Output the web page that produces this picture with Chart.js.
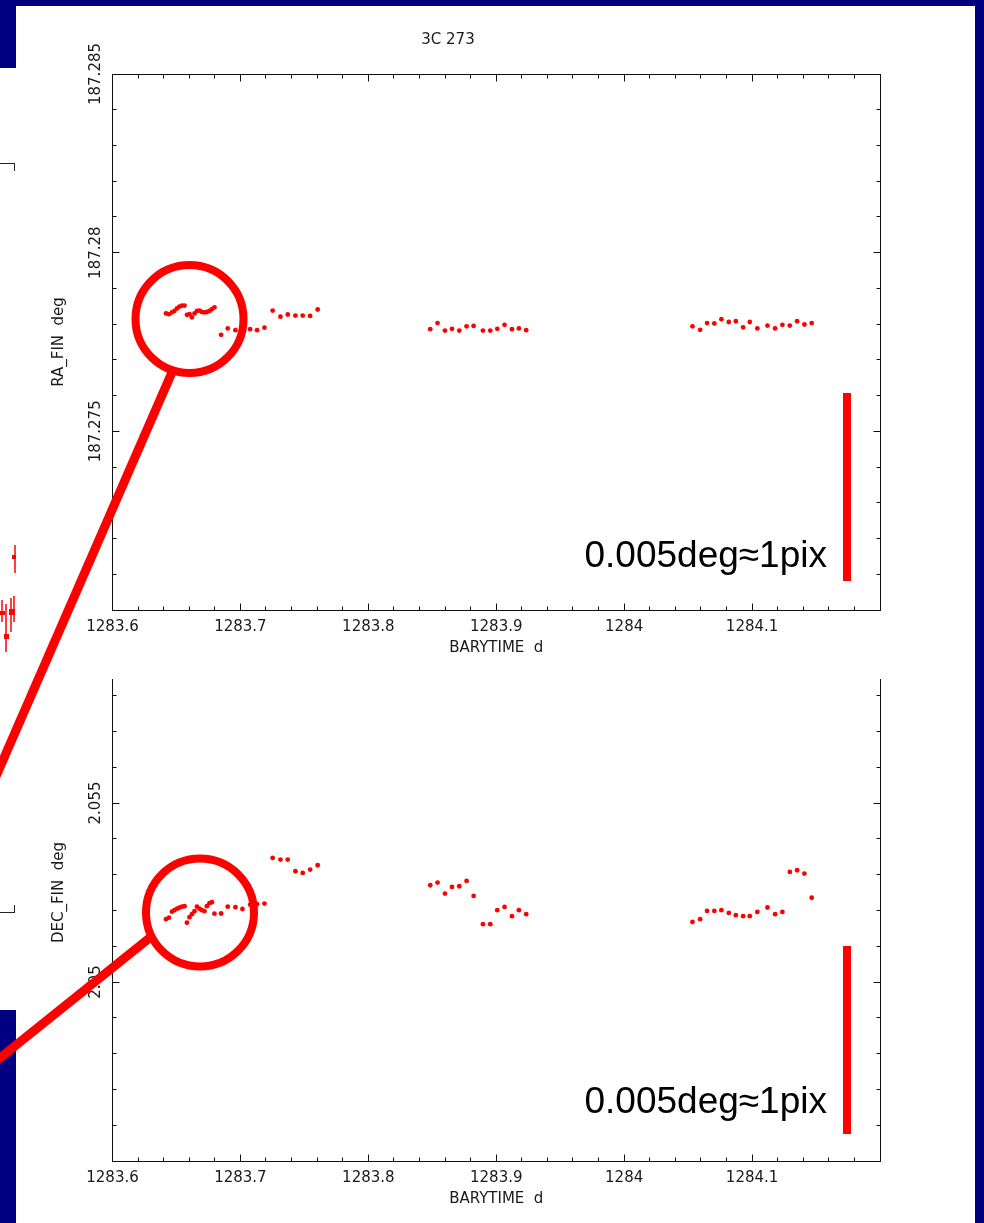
<!DOCTYPE html>
<html>
<head>
<meta charset="utf-8">
<title>3C 273 RA_FIN / DEC_FIN</title>
<script src="https://cdn.jsdelivr.net/npm/chart.js@4.4.1/dist/chart.umd.min.js"></script>
<style>
    html, body {
        margin: 0;
        padding: 0;
    }
    body {
        width: 984px;
        height: 1223px;
        background: #000080;
        position: relative;
        overflow: hidden;
    }
    .panel {
        position: absolute;
        left: 16px;
        top: 6px;
        width: 959px;
        height: 1217px;
        background: #fff;
    }
    .left-strip {
        position: absolute;
        left: 0;
        top: 68px;
        width: 16px;
        height: 942px;
        background: #fff;
    }
    .corner-top {
        position: absolute;
        left: 0;
        top: 163px;
        width: 14px;
        height: 7px;
        border-top: 1px solid #222;
        border-right: 1px solid #222;
    }
    .corner-bottom {
        position: absolute;
        left: 0;
        top: 905px;
        width: 14px;
        height: 7px;
        border-bottom: 1px solid #222;
        border-right: 1px solid #222;
    }
    #ra-wrap {
        position: absolute;
        left: 16px;
        top: 6px;
        width: 959px;
        height: 673px;
        z-index: 1;
    }
    #dec-wrap {
        position: absolute;
        left: 16px;
        top: 679px;
        width: 959px;
        height: 544px;
        overflow: hidden;
        z-index: 1;
    }
    #dec-chart {
        position: absolute;
        left: 0;
        top: -66px;
    }
    #overlay {
        position: absolute;
        left: 0;
        top: 0;
        z-index: 2;
        pointer-events: none;
    }
    .scale-note {
        position: absolute;
        right: 157px;
        font-family: 'Liberation Sans', Arial, sans-serif;
        font-size: 37px;
        line-height: 37px;
        color: #000;
        white-space: nowrap;
        z-index: 3;
    }
</style>
</head>
<body>
<div class="panel"></div>
<div class="left-strip"></div>
<div class="corner-top"></div>
<div class="corner-bottom"></div>

<div id="ra-wrap"><canvas id="ra-chart" width="959" height="673"></canvas></div>
<div id="dec-wrap"><canvas id="dec-chart" width="959" height="617"></canvas></div>

<svg id="overlay" width="984" height="1223">
    <!-- edge of the slide's other plot peeking in on the left -->
    <g stroke="#ff0000" stroke-width="1.5" fill="#ff0000">
        <line x1="15" y1="545" x2="15" y2="573"/>
        <rect x="12" y="555" width="4" height="4" stroke="none"/>
        <line x1="2" y1="600" x2="2" y2="622"/>
        <line x1="6" y1="604" x2="6" y2="652"/>
        <line x1="11" y1="598" x2="11" y2="632"/>
        <line x1="14" y1="596" x2="14" y2="622"/>
        <rect x="0" y="611" width="5" height="4" stroke="none"/>
        <rect x="4" y="634" width="5" height="5" stroke="none"/>
        <rect x="9" y="609" width="6" height="6" stroke="none"/>
    </g>
    <!-- zoom circles + leader lines -->
    <circle cx="189.5" cy="319" r="54" fill="none" stroke="#ff0000" stroke-width="8"/>
    <line x1="173" y1="370" x2="-10" y2="790" stroke="#ff0000" stroke-width="9"/>
    <circle cx="200" cy="912.5" r="54" fill="none" stroke="#ff0000" stroke-width="8"/>
    <line x1="152" y1="936" x2="-10" y2="1066" stroke="#ff0000" stroke-width="9"/>
    <!-- 1 pixel scale bars -->
    <rect x="843" y="393" width="8" height="188" fill="#ff0000"/>
    <rect x="843" y="946" width="8" height="188" fill="#ff0000"/>
</svg>
<div class="scale-note" style="top:536px">0.005deg≈1pix</div>
<div class="scale-note" style="top:1082px">0.005deg≈1pix</div>

<script>
// BARYTIME (d) of each sample
const barytime = [
    1283.6418, 1283.6441, 1283.6465, 1283.6484, 1283.6504, 1283.6523, 1283.6543, 1283.6563, 1283.6582, 1283.6602,
    1283.6621, 1283.6641, 1283.6660, 1283.6680, 1283.6699, 1283.6719, 1283.6738, 1283.6758, 1283.6777, 1283.6797,
    1283.6849, 1283.6901, 1283.6961, 1283.7016, 1283.7076, 1283.7130, 1283.7188,
    1283.7252, 1283.7313, 1283.7370, 1283.7430, 1283.7487, 1283.7545, 1283.7604,
    1283.8484, 1283.8541, 1283.8599, 1283.8654, 1283.8711, 1283.8768, 1283.8823, 1283.8896, 1283.8953, 1283.9008,
    1283.9065, 1283.9123, 1283.9177, 1283.9234,
    1284.0534, 1284.0594, 1284.0648, 1284.0705, 1284.0760, 1284.0818, 1284.0873, 1284.0930, 1284.0982, 1284.1041,
    1284.1120, 1284.1180, 1284.1237, 1284.1295, 1284.1352, 1284.1409, 1284.1466
];

// RA_FIN (deg)
const raFin = [
    187.27830, 187.27828, 187.27833, 187.27837, 187.27844, 187.27849, 187.27852, 187.27852, 187.27826, 187.27828,
    187.27819, 187.27830, 187.27837, 187.27838, 187.27834, 187.27833, 187.27834, 187.27837, 187.27842, 187.27847,
    187.27770, 187.27788, 187.27783, 187.27786, 187.27786, 187.27783, 187.27790,
    187.27838, 187.27821, 187.27827, 187.27824, 187.27824, 187.27823, 187.27841,
    187.27786, 187.27803, 187.27782, 187.27787, 187.27782, 187.27794, 187.27795, 187.27782, 187.27782, 187.27787,
    187.27798, 187.27786, 187.27788, 187.27783,
    187.27794, 187.27784, 187.27803, 187.27802, 187.27814, 187.27806, 187.27808, 187.27791, 187.27806, 187.27788,
    187.27796, 187.27788, 187.27798, 187.27796, 187.27808, 187.27799, 187.27803
];

// DEC_FIN (deg)
const decFin = [
    2.051754, 2.051796, 2.051963, 2.052005, 2.052047, 2.052075, 2.052103, 2.052117, 2.051656, 2.051810,
    2.051894, 2.051977, 2.052103, 2.052047, 2.052005, 2.051977, 2.052117, 2.052201, 2.052229, 2.051908,
    2.051913, 2.052103, 2.052089, 2.052039, 2.052159, 2.052173, 2.052192,
    2.053465, 2.053420, 2.053420, 2.053094, 2.053046, 2.053141, 2.053261,
    2.052703, 2.052778, 2.052471, 2.052656, 2.052675, 2.052823, 2.052404, 2.051615, 2.051615, 2.052005,
    2.052097, 2.051838, 2.052005, 2.051894,
    2.051679, 2.051754, 2.051986, 2.051986, 2.052005, 2.051930, 2.051866, 2.051838, 2.051838, 2.051958,
    2.052081, 2.051894, 2.051958, 2.053074, 2.053122, 2.053030, 2.052354
];

// axis ranges and labelled ticks
const timeRange = [1283.6, 1284.2];
const timeTicks = [1283.6, 1283.7, 1283.8, 1283.9, 1284.0, 1284.1];
const timeTickLabels = ['1283.6', '1283.7', '1283.8', '1283.9', '1284', '1284.1'];
const raRange = [187.27, 187.285];
const raTicks = [187.275, 187.28, 187.285];
const raTickLabels = ['187.275', '187.28', '187.285'];
const decRange = [2.045, 2.06];
const decTicks = [2.05, 2.055];
const decTickLabels = ['2.05', '2.055'];

const PG_FONT = "'DejaVu Sans', sans-serif";
const PG_TEXT = '#1a1a1a';

// PGPLOT style box: frame on all four sides, ticks pointing inwards
const frameTicks = {
    id: 'frameTicks',
    afterDraw(chart, args, opts) {
        const {ctx, chartArea: a, scales: {x, y}} = chart;
        const crisp = v => Math.round(v - 0.5) + 0.5;
        const left = crisp(a.left), right = crisp(a.right);
        const top = crisp(a.top), bottom = crisp(a.bottom);

        ctx.save();
        ctx.strokeStyle = '#111';
        ctx.lineWidth = 1;
        ctx.strokeRect(left, top, right - left, bottom - top);

        ctx.beginPath();
        const ny = Math.round((y.max - y.min) / opts.yMinor);
        for (let i = 1; i < ny; i++) {
            const py = crisp(y.getPixelForValue(y.min + i * opts.yMinor));
            const len = i % 5 === 0 ? 7 : 4;
            ctx.moveTo(left, py); ctx.lineTo(left + len, py);
            ctx.moveTo(right, py); ctx.lineTo(right - len, py);
        }
        const nx = Math.round((x.max - x.min) / opts.xMinor);
        for (let i = 1; i < nx; i++) {
            const px = crisp(x.getPixelForValue(x.min + i * opts.xMinor));
            const len = i % 5 === 0 ? 7 : 4;
            ctx.moveTo(px, bottom); ctx.lineTo(px, bottom - len);
            ctx.moveTo(px, top); ctx.lineTo(px, top + len);
        }
        ctx.stroke();
        ctx.restore();
    }
};

function timeAxis() {
    return {
        type: 'linear',
        position: 'bottom',
        min: timeRange[0],
        max: timeRange[1],
        afterBuildTicks: scale => {
            scale.ticks = timeTicks.map(v => ({value: v}));
        },
        afterFit: scale => {
            scale.height = 69;
        },
        grid: {display: false, drawTicks: false},
        border: {display: false},
        ticks: {
            padding: 8,
            maxRotation: 0,
            color: PG_TEXT,
            font: {family: PG_FONT, size: 15},
            callback: (value, index) => timeTickLabels[index]
        },
        title: {
            display: true,
            text: 'BARYTIME  d',
            color: PG_TEXT,
            font: {family: PG_FONT, size: 15},
            padding: {top: 0, bottom: 22}
        }
    };
}

function valueAxis(range, ticks, labels, titleText, tickPadding) {
    return {
        type: 'linear',
        min: range[0],
        max: range[1],
        afterBuildTicks: scale => {
            scale.ticks = ticks.map(v => ({value: v}));
        },
        afterFit: scale => {
            scale.width = 96.5;
        },
        grid: {display: false, drawTicks: false},
        border: {display: false},
        ticks: {
            padding: tickPadding,
            minRotation: 90,
            maxRotation: 90,
            crossAlign: 'center',
            color: PG_TEXT,
            font: {family: PG_FONT, size: 15},
            callback: (value, index) => labels[index]
        },
        title: {
            display: true,
            text: titleText,
            color: PG_TEXT,
            font: {family: PG_FONT, size: 15},
            padding: {top: 34.5, bottom: 0}
        }
    };
}

function pointsOf(values) {
    return barytime.map((t, i) => ({x: t, y: values[i]}));
}

const baseOptions = {
    responsive: false,
    animation: false,
    events: [],
    plugins: {
        legend: {display: false},
        tooltip: {enabled: false},
        frameTicks: {xMinor: 0.02, yMinor: 0.001}
    }
};

const pointStyle = {
    pointRadius: 2.4,
    pointStyle: 'circle',
    pointBackgroundColor: '#ff0000',
    pointBorderWidth: 0,
    showLine: false
};

function createRaChart() {
    const ctx = document.getElementById('ra-chart');
    new Chart(ctx, {
        type: 'scatter',
        data: {
            datasets: [{label: 'RA_FIN', data: pointsOf(raFin), ...pointStyle}]
        },
        options: {
            ...baseOptions,
            layout: {padding: {left: 0, right: 95, top: 0, bottom: 0}},
            plugins: {
                ...baseOptions.plugins,
                title: {
                    display: true,
                    text: '3C 273',
                    color: PG_TEXT,
                    font: {family: PG_FONT, size: 15, weight: 'normal', lineHeight: 1.2},
                    padding: {top: 25, bottom: 25}
                }
            },
            scales: {
                x: timeAxis(),
                y: valueAxis(raRange, raTicks, raTickLabels, 'RA_FIN  deg', -14.5)
            }
        },
        plugins: [frameTicks]
    });
}

function createDecChart() {
    const ctx = document.getElementById('dec-chart');
    new Chart(ctx, {
        type: 'scatter',
        data: {
            datasets: [{label: 'DEC_FIN', data: pointsOf(decFin), ...pointStyle}]
        },
        options: {
            ...baseOptions,
            layout: {padding: {left: 0, right: 95, top: 11, bottom: 0}},
            scales: {
                x: timeAxis(),
                y: valueAxis(decRange, decTicks, decTickLabels, 'DEC_FIN  deg', -5)
            }
        },
        plugins: [frameTicks]
    });
}

createRaChart();
createDecChart();
</script>
</body>
</html>
